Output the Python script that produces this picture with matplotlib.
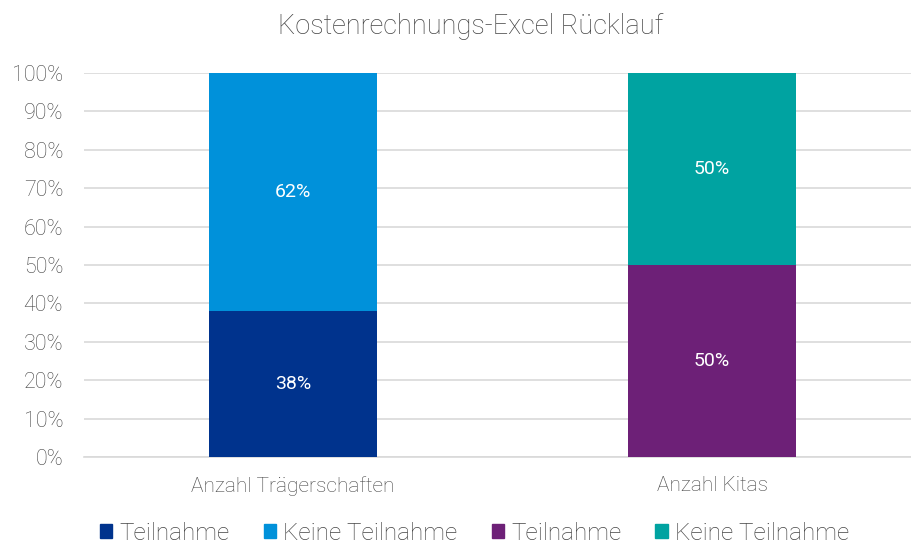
import matplotlib
matplotlib.use("Agg")
import matplotlib.pyplot as plt
from matplotlib.patches import Patch
from matplotlib.ticker import PercentFormatter

plt.rcParams['font.family'] = ['Roboto', 'DejaVu Sans']
plt.rcParams['font.weight'] = 'light'

title = "Kostenrechnungs-Excel Rücklauf"
categories = ["Anzahl Trägerschaften", "Anzahl Kitas"]
teilnahme = [38, 50]
keine_teilnahme = [62, 50]
bottom_colors = ["#00338D", "#6D2077"]
top_colors = ["#0091DA", "#00A3A1"]
legend_labels = ["Teilnahme", "Keine Teilnahme", "Teilnahme", "Keine Teilnahme"]
yticks = [0, 10, 20, 30, 40, 50, 60, 70, 80, 90, 100]

text_col = "#454545"
fig = plt.figure(figsize=(9.11, 5.46), dpi=100)
ax = fig.add_axes([84/911, (546-457)/546, 1 - 84/911, (457-73)/546])

x = list(range(len(categories)))
width = 0.40
ax.bar(x, teilnahme, width, color=bottom_colors, zorder=3)
ax.bar(x, keine_teilnahme, width, bottom=teilnahme, color=top_colors, zorder=3)

for i in x:
    ax.text(i, teilnahme[i] / 2, f"{teilnahme[i]}%", ha="center", va="center",
            color="white", fontsize=14, fontweight="normal", zorder=4)
    ax.text(i, teilnahme[i] + keine_teilnahme[i] / 2, f"{keine_teilnahme[i]}%",
            ha="center", va="center", color="white", fontsize=14, fontweight="normal", zorder=4)

ax.set_ylim(0, 100)
ax.set_xlim(-0.499, 1.475)
ax.set_yticks(yticks)
ax.yaxis.set_major_formatter(PercentFormatter(decimals=0))
ax.set_xticks(x)
ax.set_xticklabels(categories)
ax.grid(axis="y", color="#D9D9D9", linewidth=1.2, zorder=0)
for s in ["top", "right", "left"]:
    ax.spines[s].set_visible(False)
ax.spines["bottom"].set_color("#D9D9D9")
ax.spines["bottom"].set_linewidth(1.2)
ax.tick_params(axis="both", length=0, colors=text_col)
ax.tick_params(axis="x", pad=14, labelsize=15)
ax.tick_params(axis="y", pad=15, labelsize=15.5)

fig.text(0.516, 1 - 26/546, title, ha="center", va="center", fontsize=19.5,
         color=text_col, fontweight="light")

handles = [Patch(color=c) for c in [bottom_colors[0], top_colors[0], bottom_colors[1], top_colors[1]]]
fig.legend(handles, legend_labels, loc="center", bbox_to_anchor=(0.521, 1 - 533/546),
           ncol=4, frameon=False, prop={"size": 17.5, "weight": "light"}, labelcolor=text_col,
           handlelength=0.5, handleheight=0.5, handletextpad=0.3, columnspacing=1.4,
           borderpad=0.1)

fig.savefig("out.png", dpi=100)
